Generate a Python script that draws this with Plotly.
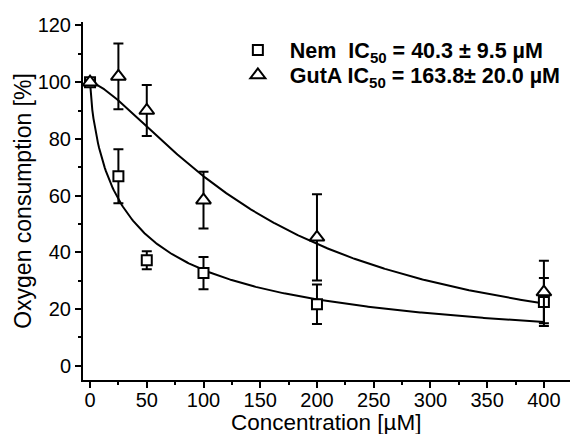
import numpy as np
import plotly.graph_objects as go

# Measured data
conc = [0, 25, 50, 100, 200, 400]
nem_mean = [100, 66.8, 37.2, 32.7, 21.7, 22.5]
nem_err = [0, 9.5, 3.2, 5.7, 7.0, 8.5]
guta_mean = [100, 102, 90, 58.4, 45.3, 26]
guta_err = [0, 11.6, 9.0, 10.0, 15.2, 11.0]

# Fit parameters (Hill model, top=100, bottom=0)
nem_ic50, nem_hill = 40.3, 0.74
guta_ic50, guta_hill = 163.8, 1.42

xfit = np.linspace(0, 400, 401)
nem_fit = 100 / (1 + (xfit / nem_ic50) ** nem_hill)
guta_fit = 100 / (1 + (xfit / guta_ic50) ** guta_hill)

FONT = "Liberation Sans, Arial, sans-serif"
SP = "\u00a0"

fig = go.Figure()
fig.add_trace(go.Scatter(x=xfit, y=nem_fit, mode="lines",
                         line=dict(color="black", width=2), showlegend=False, hoverinfo="skip"))
fig.add_trace(go.Scatter(x=xfit, y=guta_fit, mode="lines",
                         line=dict(color="black", width=2), showlegend=False, hoverinfo="skip"))
fig.add_trace(go.Scatter(
    x=conc, y=nem_mean, mode="markers", legend="legend",
    name=SP * 2 + "<b>Nem" + SP * 2 + "IC<sub>50</sub> = 40.3" + SP + "±" + SP + "9.5 µM</b>",
    marker=dict(symbol="square", size=10, color="white", line=dict(color="black", width=2)),
    error_y=dict(type="data", array=nem_err, color="black", thickness=2, width=5)))
fig.add_trace(go.Scatter(
    x=conc, y=guta_mean, mode="markers", legend="legend2",
    name=SP * 2 + "<b>GutA IC<sub>50</sub> = 163.8± 20.0 µM</b>",
    marker=dict(symbol="triangle-up", size=13, color="white", line=dict(color="black", width=2)),
    error_y=dict(type="data", array=guta_err, color="black", thickness=2, width=5)))

leg_common = dict(xanchor="left", yanchor="middle", bgcolor="rgba(0,0,0,0)",
                  font=dict(family=FONT, size=21.5, color="black"), itemwidth=30)

fig.update_layout(
    width=574, height=434,
    margin=dict(l=83, r=4, t=22, b=54, autoexpand=False),
    paper_bgcolor="white", plot_bgcolor="white",
    font=dict(family=FONT, size=20, color="black"),
    legend=dict(x=0.318, y=(380 - 50) / 358, **leg_common),
    legend2=dict(x=0.318, y=(380 - 75) / 358, **leg_common),
    xaxis=dict(range=[-6.2, 423], tickmode="array", tickvals=list(range(0, 401, 50)),
               showline=True, linecolor="black", linewidth=2, showgrid=False, zeroline=False,
               ticks="outside", ticklen=6, tickwidth=2, tickcolor="black",
               minor=dict(tickvals=list(range(25, 401, 50)), ticks="outside", ticklen=3,
                          tickwidth=2, tickcolor="black"),
               ticklabelstandoff=-5,
               tickfont=dict(size=20)),
    yaxis=dict(range=[-5, 121.2], tickmode="array", tickvals=list(range(0, 121, 20)),
               showline=True, linecolor="black", linewidth=2, showgrid=False, zeroline=False,
               ticks="outside", ticklen=6, tickwidth=2, tickcolor="black",
               minor=dict(tickvals=list(range(10, 121, 20)), ticks="outside", ticklen=3,
                          tickwidth=2, tickcolor="black"),
               title=dict(text="Oxygen consumption [%]", standoff=0, font=dict(size=23)),
               tickfont=dict(size=20)),
    annotations=[dict(text="Concentration [µM]", xref="paper", yref="paper",
                      x=0.5, y=-(422 - 380) / 358, xanchor="center", yanchor="middle",
                      showarrow=False, font=dict(family=FONT, size=22.5, color="black"))],
)

fig.write_html("out.html", config={"displayModeBar": False},
               post_script="document.body.style.margin='0';document.body.style.overflow='hidden';")
